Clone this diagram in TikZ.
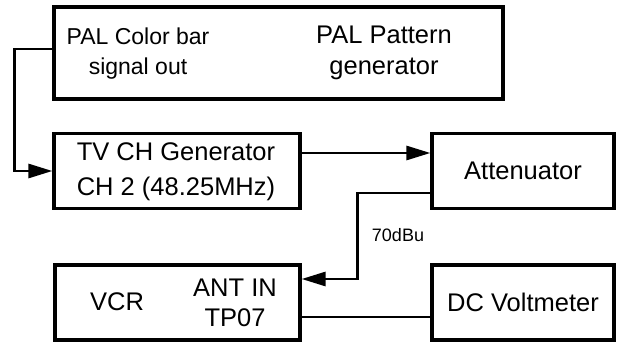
\documentclass[tikz,border=0pt]{standalone}
\usepackage{fontspec}
\setmainfont{Liberation Sans}
\usetikzlibrary{arrows.meta}
\begin{document}
\begin{tikzpicture}[x=1pt,y=-1pt,
  blk/.style={draw,line width=3.2pt,inner sep=0pt},
  lbl/.style={font=\fontsize{25.5}{35}\selectfont,align=center,inner sep=0pt},
  lbltwo/.style={font=\fontsize{25.5}{30.5}\selectfont,align=center,inner sep=0pt},
  sml/.style={font=\fontsize{23}{30}\selectfont,align=center,inner sep=0pt},
  conn/.style={line width=2.8pt},
  arr/.style={conn,-{Triangle[length=24pt,width=14pt]}}]
\useasboundingbox (0,0) rectangle (621,342);
\node[blk,minimum width=449pt,minimum height=92pt] (pal) at (278.5,53) {};
\node[sml] (paltxt) at (138,54) {PAL Color bar\\signal out};
\node[lbltwo] (pattxt) at (384,53) {PAL Pattern\\generator};
\node[blk,minimum width=246pt,minimum height=75pt] (tv) at (177,171) {};
\node[lbl] (tvtxt) at (176,172) {TV CH Generator\\CH 2 (48.25MHz)};
\node[blk,minimum width=182pt,minimum height=75pt] (att) at (523,171) {};
\node[lbl] (atttxt) at (523,171) {Attenuator};
\node[blk,minimum width=245pt,minimum height=75pt] (vcr) at (177.5,302.5) {};
\node[lbl] (vcrtxt) at (117,302) {VCR};
\node[lbltwo] (anttxt) at (235,303) {ANT IN\\TP07};
\node[blk,minimum width=182pt,minimum height=75pt] (dc) at (523,302.5) {};
\node[lbl] (dctxt) at (523,302) {DC Voltmeter};
\draw[arr] ([yshift=4pt]pal.west) -- ++(-38,0) |- (tv.west);
\draw[arr] ([yshift=18pt]tv.east) -- ([yshift=18pt]att.west);
\draw[arr] ([yshift=-22pt]att.west) -- ++(-73,0) coordinate (bend) |- ([yshift=23.5pt]vcr.east);
\node[font=\fontsize{18}{20}\selectfont,inner sep=0pt] (db) at (398,235) {70dBu};
\draw[conn] ([yshift=-14.5pt]vcr.east) -- ([yshift=-14.5pt]dc.west);
\end{tikzpicture}
\end{document}
